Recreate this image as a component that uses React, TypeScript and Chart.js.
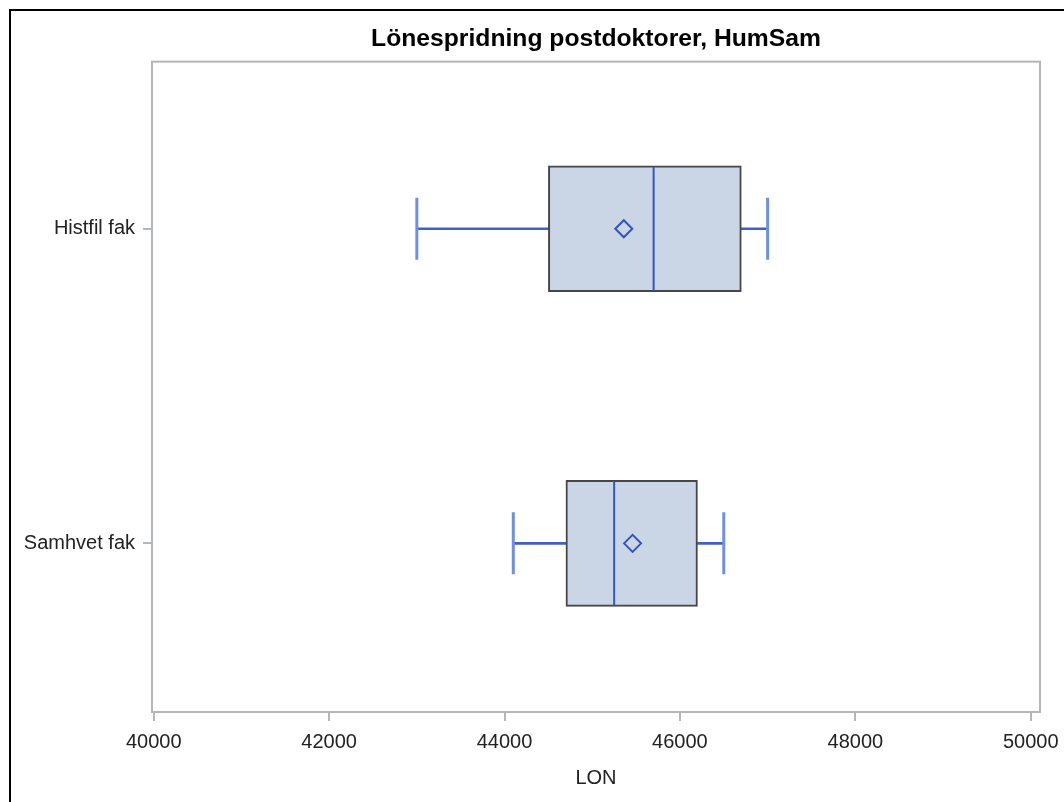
import React, { useEffect, useRef } from 'react';
import { Chart, registerables } from 'chart.js';

Chart.register(...registerables);

// ---- data ----
const categories = ['Histfil fak', 'Samhvet fak'];
const minValues = [43000, 44100];
const q1Values = [44500, 44700];
const medianValues = [45700, 45250];
const q3Values = [46700, 46200];
const maxValues = [47000, 46500];
const meanValues = [45360, 45460];
const xTickValues = [40000, 42000, 44000, 46000, 48000, 50000];

const chartTitle = 'Lönespridning postdoktorer, HumSam';
const xAxisTitle = 'LON';

const FONT = '"Liberation Sans", Arial, Helvetica, sans-serif';
const FRAME = '#b4b7ba';
const TEXT = '#222222';

const framePlugin = {
  id: 'plotFrame',
  afterDraw(chart: any) {
    const { ctx, chartArea: a } = chart;
    ctx.save();
    ctx.strokeStyle = FRAME;
    ctx.lineWidth = 2;
    ctx.strokeRect(a.left, a.top, a.right - a.left, a.bottom - a.top);
    ctx.restore();
  },
};

export default function App() {
  const canvasRef = useRef<HTMLCanvasElement | null>(null);

  useEffect(() => {
    if (!canvasRef.current) return;
    const pts = (vals: number[]) => categories.map((_, i) => ({ x: vals[i], y: i }));
    const ranges = (a: number[], b: number[]) => categories.map((_, i) => ({ x: [a[i], b[i]], y: i }));

    const chart = new Chart(canvasRef.current, {
      type: 'bar',
      data: {
        datasets: [
          {
            type: 'bar',
            label: 'lower whisker',
            data: ranges(minValues, q1Values) as any,
            backgroundColor: '#3f61c6',
            borderWidth: 0,
            barThickness: 2,
            grouped: false,
            order: 3,
          } as any,
          {
            type: 'bar',
            label: 'upper whisker',
            data: ranges(q3Values, maxValues) as any,
            backgroundColor: '#3f61c6',
            borderWidth: 0,
            barThickness: 2,
            grouped: false,
            order: 3,
          } as any,
          {
            type: 'bar',
            label: 'box',
            data: ranges(q1Values, q3Values) as any,
            backgroundColor: '#cad5e5',
            borderColor: '#464646',
            borderWidth: 2,
            borderSkipped: false,
            barThickness: 126,
            grouped: false,
            order: 2,
          } as any,
          {
            type: 'scatter',
            label: 'min',
            data: pts(minValues),
            pointStyle: 'line',
            pointRotation: 90,
            pointRadius: 31,
            pointHoverRadius: 31,
            pointBorderWidth: 3,
            pointBorderColor: '#7290d8',
            order: 0,
          } as any,
          {
            type: 'scatter',
            label: 'max',
            data: pts(maxValues),
            pointStyle: 'line',
            pointRotation: 90,
            pointRadius: 31,
            pointHoverRadius: 31,
            pointBorderWidth: 3,
            pointBorderColor: '#7290d8',
            order: 0,
          } as any,
          {
            type: 'scatter',
            label: 'median',
            data: pts(medianValues),
            pointStyle: 'line',
            pointRotation: 90,
            pointRadius: 62,
            pointHoverRadius: 62,
            pointBorderWidth: 2,
            pointBorderColor: '#3558c2',
            order: 0,
          } as any,
          {
            type: 'scatter',
            label: 'mean',
            data: pts(meanValues),
            pointStyle: 'rectRot',
            pointRadius: 8.5,
            pointHoverRadius: 8.5,
            pointBorderWidth: 2,
            pointBorderColor: '#3454ba',
            pointBackgroundColor: 'rgba(0,0,0,0)',
            order: 0,
          } as any,
        ],
      },
      options: {
        indexAxis: 'y',
        responsive: false,
        animation: false,
        events: [],
        layout: { autoPadding: false, padding: { left: 0, right: 24, top: 0, bottom: 0 } },
        plugins: {
          legend: { display: false },
          tooltip: { enabled: false },
          title: {
            display: true,
            text: chartTitle,
            fullSize: false,
            color: '#000000',
            font: { family: FONT, size: 24.7, weight: 'bold', lineHeight: 1.2 },
            padding: { top: 24.5, bottom: 7.5 },
          },
        },
        scales: {
          x: {
            type: 'linear',
            position: 'bottom',
            min: 39980,
            max: 50106,
            offset: false,
            afterBuildTicks: (scale: any) => {
              scale.ticks = xTickValues.map((v) => ({ value: v }));
            },
            afterFit: (scale: any) => {
              scale.height = 90;
              scale.paddingLeft = 0;
              scale.paddingRight = 0;
            },
            ticks: {
              callback: (v: any) => String(v),
              font: { family: FONT, size: 20, lineHeight: 1.2 },
              color: TEXT,
              padding: 9,
              maxRotation: 0,
              autoSkip: false,
            },
            grid: {
              drawOnChartArea: false,
              drawTicks: true,
              tickLength: 9,
              color: FRAME,
              lineWidth: 2,
              offset: false,
            },
            border: { display: false },
            title: {
              display: true,
              text: xAxisTitle,
              color: TEXT,
              font: { family: FONT, size: 20, lineHeight: 1.2 },
              padding: { top: 0, bottom: 12 },
            },
          },
          y: {
            type: 'linear',
            position: 'left',
            reverse: true,
            min: -0.531,
            max: 1.536,
            offset: false,
            afterBuildTicks: (scale: any) => {
              scale.ticks = categories.map((_, i) => ({ value: i }));
            },
            afterFit: (scale: any) => {
              scale.width = 152;
              scale.paddingTop = 0;
              scale.paddingBottom = 0;
            },
            ticks: {
              callback: (v: any) => categories[v] ?? '',
              font: { family: FONT, size: 20, lineHeight: 1.2 },
              color: TEXT,
              padding: 8,
              autoSkip: false,
            },
            grid: {
              drawOnChartArea: false,
              drawTicks: true,
              tickLength: 9,
              color: FRAME,
              lineWidth: 2,
              offset: false,
            },
            border: { display: false },
          },
        },
      } as any,
      plugins: [framePlugin],
    });

    return () => chart.destroy();
  }, []);

  return (
    <div
      style={{
        position: 'fixed',
        left: 0,
        top: 0,
        width: 1064,
        height: 802,
        overflow: 'hidden',
        background: '#ffffff',
      }}
    >
      <div
        style={{
          position: 'absolute',
          left: 9,
          top: 9,
          width: 1200,
          height: 1000,
          borderLeft: '2px solid #000',
          borderTop: '2px solid #000',
        }}
      />
      <canvas
        ref={canvasRef}
        width={1064}
        height={802}
        style={{ position: 'absolute', left: 0, top: 0, width: 1064, height: 802 }}
      />
    </div>
  );
}
